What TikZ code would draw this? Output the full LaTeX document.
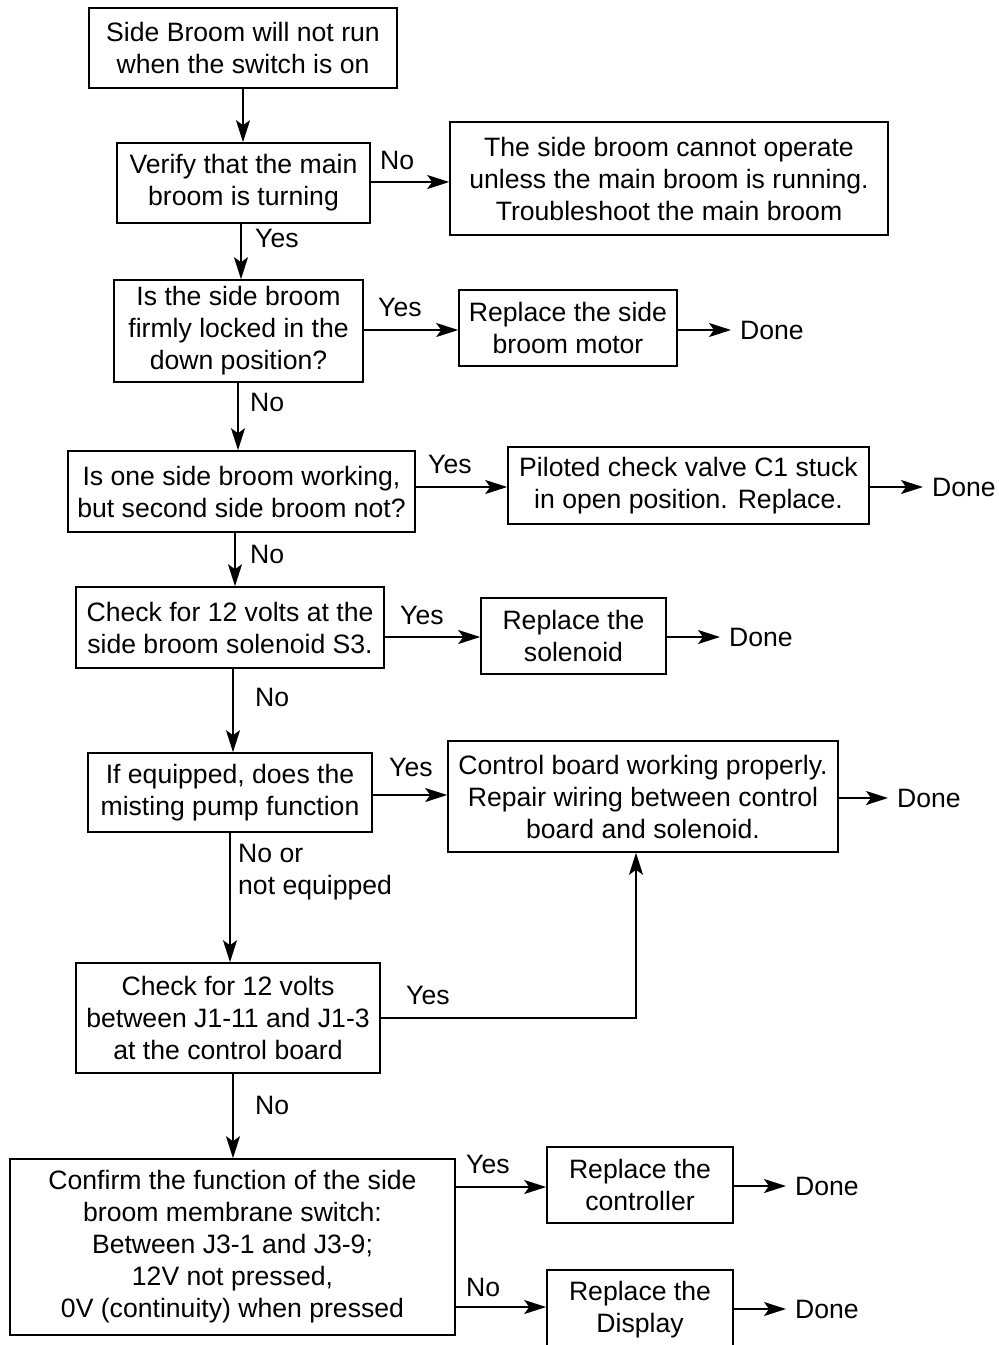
\documentclass[tikz,border=0pt]{standalone}
\usepackage{fontspec}
\setmainfont{Liberation Sans}
\usetikzlibrary{arrows.meta}
\begin{document}
\begin{tikzpicture}[x=1pt,y=-1pt,
 box/.style={draw, line width=1.6pt, rectangle, inner sep=0pt, align=center, font=\fontsize{26.6}{32}\selectfont},
 lbl/.style={inner sep=0pt, anchor=west, font=\fontsize{26.6}{32}\selectfont},
 lbl2/.style={inner sep=0pt, anchor=north west, align=left, font=\fontsize{26.6}{32}\selectfont},
 arr/.style={line width=1.6pt, -{Stealth[length=22pt,width=14pt,inset=5pt]}},
 ln/.style={line width=1.6pt}]
\useasboundingbox (0,0) rectangle (999,1345);
\fill[white] (0,0) rectangle (999,1345);
% boxes
\node[box, minimum width=308pt, minimum height=80pt] (n1) at (243,48) {Side Broom will not run\\when the switch is on};
\node[box, minimum width=253pt, minimum height=80pt] (n2) at (243.5,183) {Verify that the main\\broom is turning};
\node[box, minimum width=438pt, minimum height=113pt] (n3) at (669,178.5) {The side broom cannot operate\\unless the main broom is running.\\Troubleshoot the main broom};
\node[box, minimum width=249pt, minimum height=102pt] (n4) at (238.5,331) {Is the side broom\\firmly locked in the\\down position?};
\node[box, minimum width=218pt, minimum height=76pt] (n5) at (568,328) {Replace the side\\broom motor};
\node[box, minimum width=347pt, minimum height=81pt] (n7) at (241.5,491.5) {Is one side broom working,\\but second side broom not?};
\node[box, minimum width=361pt, minimum height=77pt] (n8) at (688.5,485.5) {Piloted check valve C1 stuck\\in open position. Replace.};
\node[box, minimum width=308pt, minimum height=81pt] (n10) at (230,627.5) {Check for 12 volts at the\\side broom solenoid S3.};
\node[box, minimum width=185pt, minimum height=76pt] (n11) at (573.5,636) {Replace the\\solenoid};
\node[box, minimum width=284pt, minimum height=79pt] (n13) at (230,792.5) {If equipped, does the\\misting pump function};
\node[box, minimum width=390pt, minimum height=111pt] (n14) at (643,796.5) {Control board working properly.\\Repair wiring between control\\board and solenoid.};
\node[box, minimum width=304pt, minimum height=110pt] (n16) at (228,1018) {Check for 12 volts\\between J1-11 and J1-3\\at the control board};
\node[box, minimum width=445pt, minimum height=176pt] (n17) at (232.5,1247) {Confirm the function of the side\\broom membrane switch:\\Between J3-1 and J3-9;\\12V not pressed,\\0V (continuity) when pressed};
\node[box, minimum width=186pt, minimum height=76pt] (n18) at (640,1185) {Replace the\\controller};
\node[box, minimum width=186pt, minimum height=80pt] (n20) at (640,1310) {Replace the\\Display};
% done labels
\node[lbl] (d1) at (740,330) {Done};
\node[lbl] (d2) at (932,487) {Done};
\node[lbl] (d3) at (729,637) {Done};
\node[lbl] (d4) at (897,798) {Done};
\node[lbl] (d5) at (795,1186) {Done};
\node[lbl] (d6) at (795,1309) {Done};
% vertical arrows
\draw[arr] (n1.south -| 243,0) -- (n2.north -| 243,0);
\draw[arr] (n2.south -| 241,0) -- (n4.north -| 241,0);
\draw[arr] (n4.south -| 238,0) -- (n7.north -| 238,0);
\draw[arr] (n7.south -| 235,0) -- (n10.north -| 235,0);
\draw[arr] (n10.south -| 233,0) -- (n13.north -| 233,0);
\draw[arr] (n13.south -| 230,0) -- (n16.north -| 230,0);
\draw[arr] (n16.south -| 233,0) -- (n17.north -| 233,0);
% horizontal arrows
\draw[arr] (n2.east |- 0,182) -- (n3.west |- 0,182);
\draw[arr] (n4.east |- 0,330) -- (n5.west |- 0,330);
\draw[arr, shorten >=9pt] (n5.east |- 0,330) -- (d1.west);
\draw[arr] (n7.east |- 0,487) -- (n8.west |- 0,487);
\draw[arr, shorten >=9pt] (n8.east |- 0,487) -- (d2.west);
\draw[arr] (n10.east |- 0,637) -- (n11.west |- 0,637);
\draw[arr, shorten >=9pt] (n11.east |- 0,637) -- (d3.west);
\draw[arr] (n13.east |- 0,795) -- (n14.west |- 0,795);
\draw[arr, shorten >=9pt] (n14.east |- 0,798) -- (d4.west);
\draw[arr] (n16.east |- 0,1018) -| (n14.south -| 636,0);
\draw[arr] (n17.east |- 0,1187) -- (n18.west |- 0,1187);
\draw[arr, shorten >=9pt] (n18.east |- 0,1186) -- (d5.west);
\draw[arr] (n17.east |- 0,1307) -- (n20.west |- 0,1307);
\draw[arr, shorten >=9pt] (n20.east |- 0,1309) -- (d6.west);
% branch labels
\node[lbl] (l1) at (380,160) {No};
\node[lbl] (l2) at (255,238) {Yes};
\node[lbl] (l3) at (378,307) {Yes};
\node[lbl] (l4) at (250,402) {No};
\node[lbl] (l5) at (428,464) {Yes};
\node[lbl] (l6) at (250,554) {No};
\node[lbl] (l7) at (400,615) {Yes};
\node[lbl] (l8) at (255,697) {No};
\node[lbl] (l9) at (389,767) {Yes};
\node[lbl2] (l10) at (238,844) {No or\\not equipped};
\node[lbl] (l11) at (406,995) {Yes};
\node[lbl] (l12) at (255,1105) {No};
\node[lbl] (l13) at (466,1164) {Yes};
\node[lbl] (l14) at (466,1287) {No};
\end{tikzpicture}
\end{document}
